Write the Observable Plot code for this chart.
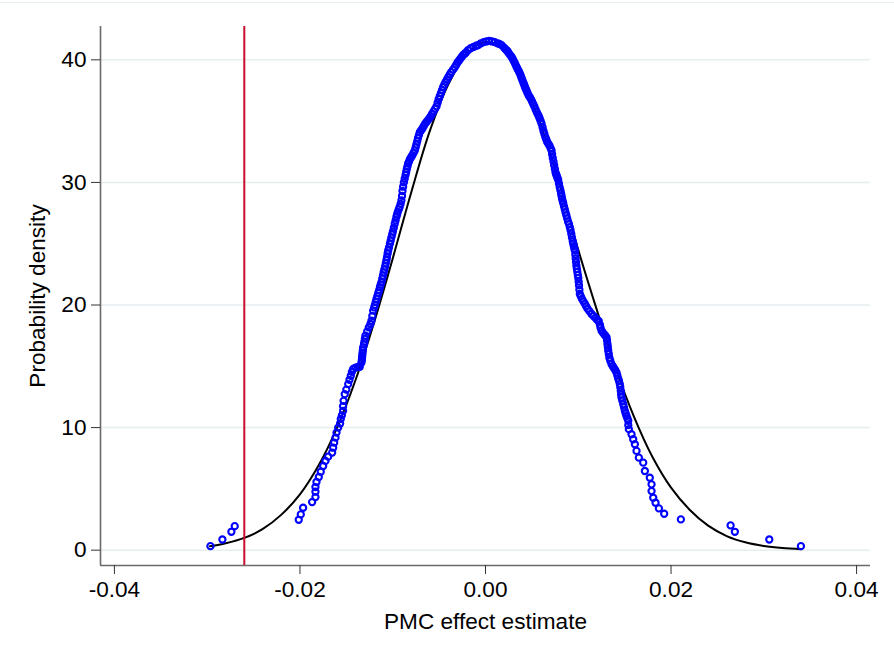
<!DOCTYPE html>
<html>
<head>
<meta charset="utf-8">
<script src="https://cdn.jsdelivr.net/npm/d3@7"></script>
<script src="https://cdn.jsdelivr.net/npm/@observablehq/plot@0.6"></script>
<style>
  html, body { margin: 0; padding: 0; background: #fff; }
  #wrap { position: relative; width: 894px; height: 649px; }
  #topline { position: absolute; left: 0; top: 2px; width: 894px; height: 1px; background: #e6eef0; }
  #chart svg { display: block; }
</style>
</head>
<body>
<div id="wrap"><div id="chart"></div><div id="topline"></div></div>
<script>
// Tick labels
const xTicks = [-0.04, -0.02, 0, 0.02, 0.04];
const yTicks = [0, 10, 20, 30, 40];

// Observed cutoff (red line)
const cutoff = -0.026;

// Normal density overlay
const normX = [-0.0297, -0.028, -0.026, -0.024, -0.022, -0.020, -0.018, -0.016, -0.014, -0.012, -0.010, -0.008, -0.006, -0.004, -0.002, 0, 0.002, 0.004, 0.006, 0.008, 0.010, 0.012, 0.014, 0.016, 0.018, 0.020, 0.022, 0.024, 0.026, 0.028, 0.030, 0.032, 0.034];
const normY = [0.32, 0.56, 1.00, 1.73, 2.90, 4.55, 6.90, 10.0, 13.9, 18.6, 23.8, 29.2, 34.2, 38.0, 40.5, 41.45, 40.8, 38.4, 34.6, 29.9, 24.5, 19.6, 14.9, 10.9, 7.6, 5.1, 3.3, 2.0, 1.15, 0.64, 0.34, 0.17, 0.08];

// Kernel density of the placebo estimates evaluated at each estimate (blue circles)
const kdePoints = [
  [-0.02965, 0.33], [-0.02836, 0.87], [-0.02739, 1.50], [-0.02703, 1.96],
  [-0.02013, 2.48], [-0.01991, 2.92], [-0.01966, 3.46], [-0.01869, 3.92], [-0.01833, 4.33], [-0.01833, 4.77],
  [-0.01833, 5.15], [-0.01822, 5.56], [-0.01797, 5.97], [-0.01776, 6.40], [-0.01750, 6.87], [-0.01725, 7.28],
  [-0.01696, 7.63], [-0.01653, 7.96], [-0.01642, 8.36], [-0.01631, 8.77], [-0.01617, 9.18], [-0.01606, 9.59],
  [-0.01588, 10.00], [-0.01567, 10.33], [-0.01560, 10.70], [-0.01548, 11.00], [-0.01535, 11.37], [-0.01535, 11.75],
  [-0.01530, 12.18], [-0.01517, 12.73], [-0.01500, 13.10], [-0.01480, 13.55], [-0.01466, 13.90], [-0.01452, 14.23],
  [-0.01440, 14.55], [-0.01426, 14.78], [-0.01400, 14.90], [-0.01375, 14.95], [-0.01355, 14.96], [-0.01337, 15.30],
  [-0.01333, 15.50], [-0.01330, 15.70], [-0.01328, 15.90], [-0.01325, 16.10], [-0.01322, 16.30], [-0.01319, 16.54],
  [-0.01310, 16.80], [-0.01305, 17.00], [-0.01300, 17.25], [-0.01294, 17.50], [-0.01275, 17.85], [-0.01258, 18.18],
  [-0.01240, 18.45], [-0.01229, 18.72], [-0.01220, 19.10], [-0.01211, 19.54], [-0.01200, 19.80], [-0.01192, 20.00],
  [-0.01183, 20.25], [-0.01175, 20.50], [-0.01165, 20.75], [-0.01155, 21.00], [-0.01146, 21.20], [-0.01138, 21.45],
  [-0.01130, 21.65], [-0.01121, 21.86], [-0.01113, 22.15], [-0.01105, 22.40], [-0.01098, 22.65], [-0.01090, 22.90],
  [-0.01082, 23.15], [-0.01075, 23.40], [-0.01068, 23.65], [-0.01062, 23.90], [-0.01055, 24.20], [-0.01049, 24.45],
  [-0.01040, 24.70], [-0.01030, 25.00], [-0.01022, 25.25], [-0.01015, 25.50], [-0.01006, 25.75], [-0.00998, 26.00],
  [-0.00988, 26.30], [-0.00978, 26.63], [-0.00969, 26.90], [-0.00960, 27.20], [-0.00952, 27.40], [-0.00945, 27.60],
  [-0.00935, 27.80], [-0.00925, 28.00], [-0.00915, 28.25], [-0.00906, 28.54], [-0.00900, 28.90], [-0.00895, 29.30],
  [-0.00888, 29.65], [-0.00880, 30.00], [-0.00871, 30.30], [-0.00862, 30.60], [-0.00855, 30.85], [-0.00848, 31.10],
  [-0.00841, 31.30], [-0.00834, 31.54], [-0.00825, 31.70], [-0.00815, 31.90], [-0.00802, 32.05], [-0.00790, 32.20],
  [-0.00776, 32.40], [-0.00762, 32.60], [-0.00753, 32.85], [-0.00745, 33.10], [-0.00736, 33.35], [-0.00728, 33.60],
  [-0.00718, 33.85], [-0.00708, 34.10], [-0.00694, 34.25], [-0.00680, 34.40], [-0.00665, 34.60], [-0.00650, 34.80],
  [-0.00634, 34.95], [-0.00618, 35.10], [-0.00604, 35.25], [-0.00590, 35.40], [-0.00575, 35.60], [-0.00560, 35.80],
  [-0.00544, 36.00], [-0.00528, 36.20], [-0.00516, 36.50], [-0.00505, 36.80], [-0.00492, 37.05], [-0.00480, 37.30],
  [-0.00468, 37.55], [-0.00456, 37.80], [-0.00443, 38.00], [-0.00430, 38.20], [-0.00415, 38.40], [-0.00400, 38.60],
  [-0.00385, 38.80], [-0.00370, 39.00], [-0.00350, 39.20], [-0.00331, 39.40], [-0.00315, 39.60], [-0.00300, 39.80],
  [-0.00285, 39.95], [-0.00270, 40.10], [-0.00255, 40.25], [-0.00240, 40.40], [-0.00225, 40.50], [-0.00210, 40.60],
  [-0.00187, 40.80], [-0.00160, 40.95], [-0.00130, 41.05], [-0.00100, 41.15], [-0.00079, 41.20], [-0.00050, 41.35],
  [-0.00020, 41.45], [0.00010, 41.50], [0.00040, 41.55], [0.00070, 41.50], [0.00100, 41.45], [0.00130, 41.35],
  [0.00150, 41.30], [0.00173, 41.20], [0.00200, 41.00], [0.00212, 40.90], [0.00225, 40.80], [0.00238, 40.70],
  [0.00250, 40.55], [0.00265, 40.40], [0.00280, 40.25], [0.00292, 40.10], [0.00305, 39.90], [0.00318, 39.70],
  [0.00330, 39.50], [0.00340, 39.35], [0.00350, 39.20], [0.00360, 39.05], [0.00370, 38.90], [0.00380, 38.70],
  [0.00390, 38.50], [0.00400, 38.30], [0.00410, 38.10], [0.00418, 37.95], [0.00425, 37.80], [0.00433, 37.65],
  [0.00442, 37.50], [0.00453, 37.30], [0.00465, 37.10], [0.00478, 36.95], [0.00490, 36.80], [0.00502, 36.60],
  [0.00514, 36.40], [0.00527, 36.20], [0.00540, 35.95], [0.00554, 35.70], [0.00568, 35.50], [0.00577, 35.35],
  [0.00585, 35.20], [0.00595, 35.00], [0.00604, 34.80], [0.00615, 34.50], [0.00625, 34.20], [0.00635, 33.95],
  [0.00645, 33.70], [0.00655, 33.50], [0.00665, 33.30], [0.00678, 33.15], [0.00690, 33.00], [0.00701, 32.80],
  [0.00712, 32.60], [0.00718, 32.30], [0.00725, 32.00], [0.00733, 31.70], [0.00740, 31.40], [0.00748, 31.10],
  [0.00755, 30.80], [0.00762, 30.65], [0.00770, 30.50], [0.00777, 30.35], [0.00784, 30.20], [0.00792, 29.90],
  [0.00800, 29.60], [0.00808, 29.35], [0.00815, 29.10], [0.00820, 28.90], [0.00825, 28.70], [0.00831, 28.50],
  [0.00838, 28.30], [0.00846, 28.05], [0.00855, 27.80], [0.00863, 27.55], [0.00872, 27.30], [0.00881, 27.05],
  [0.00890, 26.80], [0.00900, 26.60], [0.00909, 26.35], [0.00917, 26.10], [0.00925, 25.80], [0.00932, 25.50],
  [0.00940, 25.20], [0.00946, 25.00], [0.00952, 24.80], [0.00958, 24.60], [0.00963, 24.45], [0.00968, 24.10],
  [0.00972, 23.80], [0.00976, 23.50], [0.00980, 23.20], [0.00985, 22.95], [0.00990, 22.70], [0.00995, 22.45],
  [0.01000, 22.20], [0.01004, 21.90], [0.01008, 21.60], [0.01012, 21.25], [0.01017, 20.90], [0.01028, 20.70],
  [0.01040, 20.50], [0.01055, 20.30], [0.01071, 20.10], [0.01085, 19.90], [0.01100, 19.70], [0.01120, 19.50],
  [0.01143, 19.27], [0.01165, 19.10], [0.01185, 18.95], [0.01203, 18.80], [0.01220, 18.70], [0.01233, 18.40],
  [0.01240, 18.15], [0.01251, 17.90], [0.01265, 17.75], [0.01280, 17.60], [0.01292, 17.50], [0.01305, 17.36],
  [0.01310, 17.10], [0.01315, 16.80], [0.01319, 16.55], [0.01323, 16.27], [0.01329, 16.00], [0.01335, 15.70],
  [0.01345, 15.45], [0.01358, 15.18], [0.01372, 15.00], [0.01385, 14.85], [0.01398, 14.70], [0.01412, 14.50],
  [0.01421, 14.25], [0.01430, 14.00], [0.01439, 13.80], [0.01448, 13.55], [0.01453, 13.30], [0.01458, 13.00],
  [0.01462, 12.70], [0.01466, 12.45], [0.01475, 12.20], [0.01485, 11.90], [0.01493, 11.65], [0.01502, 11.37],
  [0.01511, 11.15], [0.01520, 10.95], [0.01530, 10.75], [0.01539, 10.55], [0.01539, 10.20], [0.01545, 9.87],
  [0.01574, 9.46], [0.01592, 9.05], [0.01610, 8.64], [0.01628, 8.10], [0.01653, 7.55], [0.01700, 7.14],
  [0.01718, 6.46], [0.01771, 5.91], [0.01790, 5.37], [0.01790, 4.82], [0.01808, 4.28], [0.01833, 3.87],
  [0.01869, 3.41], [0.01926, 2.97], [0.02106, 2.51], [0.02642, 2.02], [0.02688, 1.50], [0.03059, 0.87],
  [0.03400, 0.33]
];

const kde = kdePoints.map(([x, y]) => ({x, y}));
const normal = normX.map((x, i) => ({x, y: normY[i]}));

const xDomain = [-0.0415, 0.0415];
const yDomain = [-1.25, 42.72];
const fmt = d => d.toFixed(2);

const chart = Plot.plot({
  width: 894,
  height: 649,
  marginLeft: 100,
  marginRight: 24,
  marginTop: 26,
  marginBottom: 84,
  style: {fontFamily: "'Liberation Sans', Arial, sans-serif", fontSize: "22.6px", color: "#000", background: "#fff"},
  x: {domain: xDomain},
  y: {domain: yDomain},
  marks: [
    Plot.gridY(yTicks, {stroke: "#e6eef0", strokeOpacity: 1, strokeWidth: 1.5}),
    Plot.ruleX([xDomain[0]], {stroke: "#6a6a6a", strokeWidth: 1.6}),
    Plot.ruleY([yDomain[0]], {stroke: "#6a6a6a", strokeWidth: 1.6}),
    Plot.axisX(xTicks, {tickFormat: fmt, tickSize: 9, tickPadding: 6, stroke: "#333", label: "PMC effect estimate", labelAnchor: "center", labelArrow: "none", labelOffset: 63, fontSize: 22.6}),
    Plot.axisY(yTicks, {tickSize: 9, tickPadding: 5, stroke: "#333", label: "Probability density", labelAnchor: "center", labelArrow: "none", labelOffset: 72, fontSize: 22.6}),
    Plot.line(normal, {x: "x", y: "y", stroke: "#000", strokeWidth: 2, curve: "catmull-rom"}),
    Plot.dot(kde, {x: "x", y: "y", r: 3.1, stroke: "#0000ff", strokeWidth: 2.1, fill: "none"}),
    Plot.ruleX([cutoff], {stroke: "#c8102e", strokeWidth: 2})
  ]
});
document.getElementById("chart").appendChild(chart);
</script>
</body>
</html>
